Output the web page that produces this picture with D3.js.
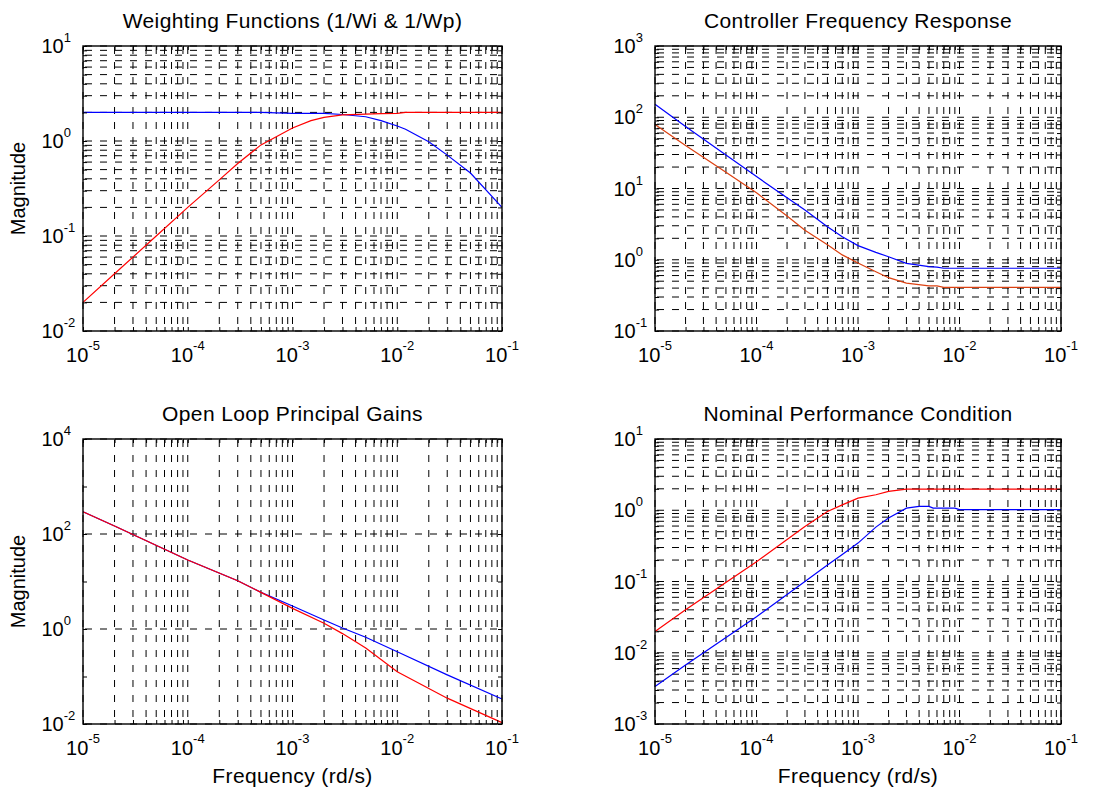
<!DOCTYPE html>
<html>
<head>
<meta charset="utf-8">
<script src="https://cdn.jsdelivr.net/npm/d3@7"></script>
<style>
  body { margin: 0; background: #fff; }
  text { font-family: "Liberation Sans", Arial, Helvetica, sans-serif; fill: #000; }
</style>
</head>
<body>
<div id="chart"></div>
<script>
// ---- data (freq in rd/s, magnitude) ----
// weighting functions
var freqWeight = [1e-5, 2e-5, 5e-5, 1e-4, 2e-4, 3e-4, 5e-4, 7e-4, 1e-3, 1.5e-3, 2e-3, 3e-3, 5e-3, 7e-3, 1e-2, 1.2e-2, 2e-2, 3e-2, 5e-2, 1e-1];
var invWi = [2.0, 2.0, 2.0, 2.0, 2.0, 2.0, 2.0, 1.98, 1.95, 1.95, 1.95, 1.9, 1.8, 1.64, 1.44, 1.33, 0.98, 0.71, 0.46, 0.2];
var invWp = [0.02, 0.04, 0.1, 0.2, 0.39, 0.58, 0.91, 1.11, 1.37, 1.64, 1.77, 1.88, 1.92, 1.94, 1.95, 2.0, 2.0, 2.0, 2.0, 2.0];

// controller singular values
var freqCtrl = [1e-5, 2e-5, 5e-5, 1e-4, 2e-4, 3e-4, 5e-4, 7e-4, 1e-3, 1.5e-3, 2e-3, 3e-3, 5e-3, 6e-3, 7e-3, 1e-2, 1e-1];
var ctrlMax = [152, 74, 29.5, 14.7, 7.4, 5.0, 2.9, 2.1, 1.58, 1.27, 1.10, 0.89, 0.80, 0.79, 0.76, 0.76, 0.76];
var ctrlMin = [79, 40, 16.9, 8.7, 4.1, 2.6, 1.62, 1.17, 0.9, 0.68, 0.56, 0.47, 0.43, 0.43, 0.41, 0.41, 0.41];

// open loop principal gains
var freqLoop = [1e-5, 2e-5, 1e-4, 3e-4, 5e-4, 1e-3, 2e-3, 3e-3, 5e-3, 1e-2, 3e-2, 1e-1];
var loopMax = [295, 147, 28.4, 10.4, 5.9, 3.05, 1.55, 1.05, 0.67, 0.333, 0.108, 0.0336];
var loopMin = [295, 147, 28.4, 10.4, 5.9, 2.72, 1.32, 0.8, 0.4, 0.126, 0.035, 0.0107];

// nominal performance
var freqNP = [1e-5, 2e-5, 1e-4, 3e-4, 5e-4, 7e-4, 1e-3, 1.5e-3, 2e-3, 3e-3, 4e-3, 5e-3, 5.5e-3, 9e-3, 1e-2, 1e-1];
var npWp = [0.0198, 0.04, 0.19, 0.59, 0.96, 1.19, 1.48, 1.65, 1.84, 1.98, 1.98, 1.98, 1.98, 1.98, 1.98, 1.98];
var npS = [0.00335, 0.00675, 0.032, 0.1, 0.17, 0.24, 0.346, 0.58, 0.776, 1.07, 1.13, 1.13, 1.07, 1.07, 1.02, 1.02];

var xTickExps = [-5, -4, -3, -2, -1];

var W = 1099, H = 790;

var svg = d3.select("#chart").append("svg")
    .attr("width", W)
    .attr("height", H);

var panels = [
  {left: 83, top: 46, right: 502, bottom: 331, title: "Weighting Functions (1/Wi & 1/Wp)",
   yExps: [-2, -1, 0, 1], yLabelExps: [-2, -1, 0, 1], minorY: true, ylab: true, xlab: false,
   freq: freqWeight, lines: [[invWi, "#0000ff"], [invWp, "#ff0000"]]},
  {left: 655, top: 46, right: 1061, bottom: 331, title: "Controller Frequency Response",
   yExps: [-1, 0, 1, 2, 3], yLabelExps: [-1, 0, 1, 2, 3], minorY: true, ylab: false, xlab: false,
   freq: freqCtrl, lines: [[ctrlMax, "#0000ff"], [ctrlMin, "#dc4010"]]},
  {left: 83, top: 439, right: 502, bottom: 724, title: "Open Loop Principal Gains",
   yExps: [-2, -1, 0, 1, 2, 3, 4], yLabelExps: [-2, 0, 2, 4], minorY: false, ylab: true, xlab: true,
   freq: freqLoop, lines: [[loopMax, "#0000ff"], [loopMin, "#ff0000"]]},
  {left: 655, top: 439, right: 1061, bottom: 724, title: "Nominal Performance Condition",
   yExps: [-3, -2, -1, 0, 1], yLabelExps: [-3, -2, -1, 0, 1], minorY: true, ylab: false, xlab: true,
   freq: freqNP, lines: [[npS, "#0000ff"], [npWp, "#ff0000"]]}
];

// 1..9 x 10^e for each decade, plus the last decade value
function logTicks(exps) {
  var out = [];
  for (var i = 0; i < exps.length - 1; i++) {
    for (var k = 1; k <= 9; k++) out.push(+(k + "e" + exps[i]));
  }
  out.push(+("1e" + exps[exps.length - 1]));
  return out;
}

panels.forEach(function(p) {
  var w = p.right - p.left, h = p.bottom - p.top;
  var x = d3.scaleLog().domain([1e-5, 1e-1]).range([p.left, p.right]);
  var y = d3.scaleLog()
      .domain([+("1e" + p.yExps[0]), +("1e" + p.yExps[p.yExps.length - 1])])
      .range([p.bottom, p.top]);

  var xMinor = logTicks(xTickExps);
  var yMinor = p.minorY ? logTicks(p.yExps) : p.yExps.map(function(e) { return +("1e" + e); });
  var yGrid = p.minorY ? yMinor : p.yLabelExps.map(function(e) { return +("1e" + e); });

  var g = svg.append("g");

  // dashed grid
  g.append("g").selectAll("line").data(xMinor).enter().append("line")
      .attr("x1", function(d) { return x(d); }).attr("x2", function(d) { return x(d); })
      .attr("y1", p.top).attr("y2", p.bottom)
      .attr("stroke", "#000").attr("stroke-width", 1)
      .attr("stroke-dasharray", "7,8").attr("stroke-dashoffset", -1);
  g.append("g").selectAll("line").data(yGrid).enter().append("line")
      .attr("y1", function(d) { return y(d); }).attr("y2", function(d) { return y(d); })
      .attr("x1", p.left).attr("x2", p.right)
      .attr("stroke", "#000").attr("stroke-width", 1)
      .attr("stroke-dasharray", "7,8").attr("stroke-dashoffset", -2);

  // curves
  var line = d3.line()
      .x(function(d) { return x(d[0]); })
      .y(function(d) { return y(d[1]); });
  p.lines.forEach(function(s) {
    g.append("path")
        .datum(d3.zip(p.freq, s[0]))
        .attr("d", line)
        .attr("fill", "none")
        .attr("stroke", s[1])
        .attr("stroke-width", 1.2);
  });

  // box
  g.append("rect")
      .attr("x", p.left).attr("y", p.top).attr("width", w).attr("height", h)
      .attr("fill", "none").attr("stroke", "#000").attr("stroke-width", 1.4);

  // inward ticks on all four sides
  function ticks(axis, tr) {
    var a = g.append("g").attr("transform", tr).call(axis);
    a.select(".domain").remove();
    a.selectAll("text").remove();
    a.selectAll("line").attr("stroke", "#000");
  }
  ticks(d3.axisBottom(x).tickValues(xMinor).tickSize(-4).tickFormat(""), "translate(0," + p.bottom + ")");
  ticks(d3.axisTop(x).tickValues(xMinor).tickSize(-4).tickFormat(""), "translate(0," + p.top + ")");
  ticks(d3.axisLeft(y).tickValues(yMinor).tickSize(-4).tickFormat(""), "translate(" + p.left + ",0)");
  ticks(d3.axisRight(y).tickValues(yMinor).tickSize(-4).tickFormat(""), "translate(" + p.right + ",0)");

  // x tick labels 10^e
  xTickExps.forEach(function(e) {
    var t = g.append("text")
        .attr("x", x(+("1e" + e)))
        .attr("y", p.bottom + 31)
        .attr("text-anchor", "middle")
        .style("font-size", "20px");
    t.append("tspan").text("10");
    t.append("tspan").attr("dy", -12).style("font-size", "13px").text(e);
  });

  // y tick labels
  p.yLabelExps.forEach(function(e) {
    var t = g.append("text")
        .attr("x", p.left - 41.5)
        .attr("y", y(+("1e" + e)) + 7)
        .style("font-size", "20px");
    t.append("tspan").text("10");
    t.append("tspan").attr("dy", -11).style("font-size", "13px").text(e);
  });

  // title
  g.append("text")
      .attr("x", (p.left + p.right) / 2)
      .attr("y", p.top - 18)
      .attr("text-anchor", "middle")
      .style("font-size", "21px")
      .style("letter-spacing", "0.4px")
      .text(p.title);

  if (p.ylab) {
    g.append("text")
        .attr("transform", "translate(25," + (p.top + h / 2) + ") rotate(-90)")
        .attr("text-anchor", "middle")
        .style("font-size", "20px")
        .text("Magnitude");
  }
  if (p.xlab) {
    g.append("text")
        .attr("x", (p.left + p.right) / 2)
        .attr("y", p.bottom + 59)
        .attr("text-anchor", "middle")
        .style("font-size", "21px")
        .style("letter-spacing", "0.4px")
        .text("Frequency (rd/s)");
  }
});
</script>
</body>
</html>
